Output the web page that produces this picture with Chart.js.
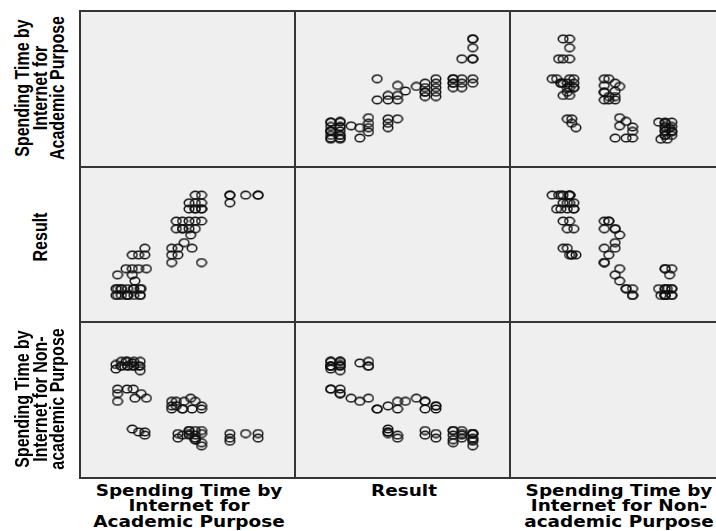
<!DOCTYPE html>
<html>
<head>
<meta charset="utf-8">
<script src="https://cdn.jsdelivr.net/npm/chart.js@4.4.1/dist/chart.umd.min.js"></script>
<style>
  html, body { margin: 0; padding: 0; background: #ffffff; }
  body { position: relative; width: 716px; height: 531px; overflow: hidden; }
  .panel { position: absolute; background: #efefef; }
  .panel canvas { position: absolute; left: 0; top: 0; }
  .rule { position: absolute; background: #353535; z-index: 5; }
  .xlab {
    position: absolute; top: 484px; white-space: nowrap; text-align: center;
    font: bold 15px/15.3px "DejaVu Sans", sans-serif; color: #000;
    transform: translateX(-50%) scaleX(1.23); transform-origin: center top;
  }
  .ylab {
    position: absolute; white-space: nowrap; text-align: center;
    font: bold 16px/13.6px "Liberation Sans", Arial, sans-serif; color: #000;
    transform: translate(-50%, -50%) scaleX(1.3) rotate(-90deg);
    transform-origin: center center;
  }
</style>
</head>
<body>
<script>
// Survey variables, one entry per respondent (scores on a 0-100 scale)
const academic = [
  14.3, 17.0, 20.1, 23.2, 26.3, 14.3, 17.0, 20.1, 23.2, 26.3, 26.3, 20.1, 17.0,
  15.1, 19.8, 15.1, 22.9, 23.7, 15.1, 26.8, 29.4,
  22.4, 19.3, 22.4, 25.5,
  22.4, 25.5, 28.6, 28.6,
  41.9, 41.9, 41.9, 45.0, 45.0, 48.1, 52.0, 56.7,
  44.2, 47.3, 50.5, 53.6, 56.7, 44.2, 47.3, 50.5, 53.6, 51.3, 47.3,
  50.5, 53.6, 56.7, 50.5, 53.6, 53.6, 56.7, 56.7, 53.6, 56.7,
  70.7, 70.7, 70.7, 78.5, 84.7, 84.7
];
const result = [
  14.2, 14.2, 14.2, 14.2, 14.2, 18.9, 18.9, 18.9, 18.9, 18.9, 14.2, 14.2, 18.9,
  14.2, 14.2, 18.9, 18.9, 24.3, 28.6, 18.9, 32.9,
  28.6, 32.9, 32.9, 32.9,
  42.6, 42.6, 42.6, 47.3,
  47.3, 42.6, 37.2, 47.3, 42.6, 51.2, 47.3, 37.2,
  66.3, 66.3, 66.3, 66.3, 66.3, 60.9, 60.9, 60.9, 60.9, 56.6, 60.9,
  79.1, 79.1, 74.8, 74.8, 74.8, 84.5, 84.5, 79.1, 74.8, 74.8,
  84.5, 79.1, 84.5, 84.5, 84.5, 84.5
];
const nonAcademic = [
  71.2, 73.3, 76.6, 73.3, 76.6, 74.4, 76.6, 73.3, 76.6, 70.1, 73.3, 73.3, 73.3,
  57.2, 57.2, 54.0, 57.2, 50.8, 48.6, 54.0, 50.8,
  75.5, 76.6, 73.3, 73.3,
  29.2, 27.1, 27.1, 24.9,
  48.6, 45.4, 43.2, 22.8, 26.0, 48.6, 43.2, 43.2,
  45.4, 43.2, 26.0, 22.8, 45.4, 48.6, 43.2, 28.1, 48.6, 50.8, 24.9,
  28.1, 24.9, 28.1, 24.9, 21.7, 21.7, 17.4, 26.0, 28.1, 19.6,
  26.0, 22.8, 20.6, 26.0, 22.8, 26.0
];

const variableNames = [
  ["Spending Time by", "Internet for", "Academic Purpose"],
  ["Result"],
  ["Spending Time by", "Internet for Non-", "academic Purpose"]
];
const variables = [academic, result, nonAcademic];

// Matrix geometry (pixels)
const colLeft = [80, 295, 510];
const rowTop = [11, 167, 322];
const cellW = 215, cellH = 156;

// Open ring marker, slightly wider than tall
function makeRing() {
  const c = document.createElement('canvas');
  c.width = 12; c.height = 10;
  const g = c.getContext('2d');
  g.strokeStyle = '#101010';
  g.lineWidth = 1.45;
  g.beginPath();
  g.ellipse(6, 5, 4.8, 3.8, 0, 0, Math.PI * 2);
  g.stroke();
  return c;
}
const ring = makeRing();

function addPanel(r, c) {
  const div = document.createElement('div');
  div.className = 'panel';
  div.style.left = colLeft[c] + 'px';
  div.style.top = rowTop[r] + 'px';
  div.style.width = cellW + 'px';
  div.style.height = cellH + 'px';
  document.body.appendChild(div);
  if (r === c) return;
  const cv = document.createElement('canvas');
  cv.width = cellW; cv.height = cellH;
  div.appendChild(cv);
  const xs = variables[c], ys = variables[r];
  new Chart(cv, {
    type: 'scatter',
    data: {
      datasets: [{
        data: xs.map((v, i) => ({ x: v, y: ys[i] })),
        pointStyle: ring,
        pointRadius: 5,
        pointHoverRadius: 5,
        borderColor: '#101010',
        backgroundColor: 'rgba(0,0,0,0)'
      }]
    },
    options: {
      responsive: false,
      animation: false,
      events: [],
      layout: { padding: 0 },
      plugins: { legend: { display: false }, tooltip: { enabled: false } },
      scales: {
        x: { type: 'linear', display: false, min: -0.5, max: 100 },
        y: { type: 'linear', display: false, min: -1, max: 100 }
      }
    }
  });
}

for (let r = 0; r < 3; r++) for (let c = 0; c < 3; c++) addPanel(r, c);

// Panel rules
function rule(x, y, w, h) {
  const d = document.createElement('div');
  d.className = 'rule';
  d.style.left = x + 'px'; d.style.top = y + 'px';
  d.style.width = w + 'px'; d.style.height = h + 'px';
  document.body.appendChild(d);
}
const bottom = rowTop[2] + cellH;
[80, 295, 510].forEach(x => rule(x - 1, 10, 2, bottom - 9));
[11, 167, 322, bottom].forEach(y => rule(79, y - 1, 716 - 79, 2));

// Variable labels
variableNames.forEach((lines, i) => {
  const xl = document.createElement('div');
  xl.className = 'xlab';
  xl.style.left = (colLeft[i] + cellW / 2 + 1) + 'px';
  xl.innerHTML = lines.join('<br>');
  document.body.appendChild(xl);

  const yl = document.createElement('div');
  yl.className = 'ylab';
  yl.style.left = '40px';
  yl.style.top = (i === 1 ? 237 : rowTop[i] + cellH / 2 - 1) + 'px';
  yl.innerHTML = lines.join('<br>');
  document.body.appendChild(yl);
});
</script>
</body>
</html>
